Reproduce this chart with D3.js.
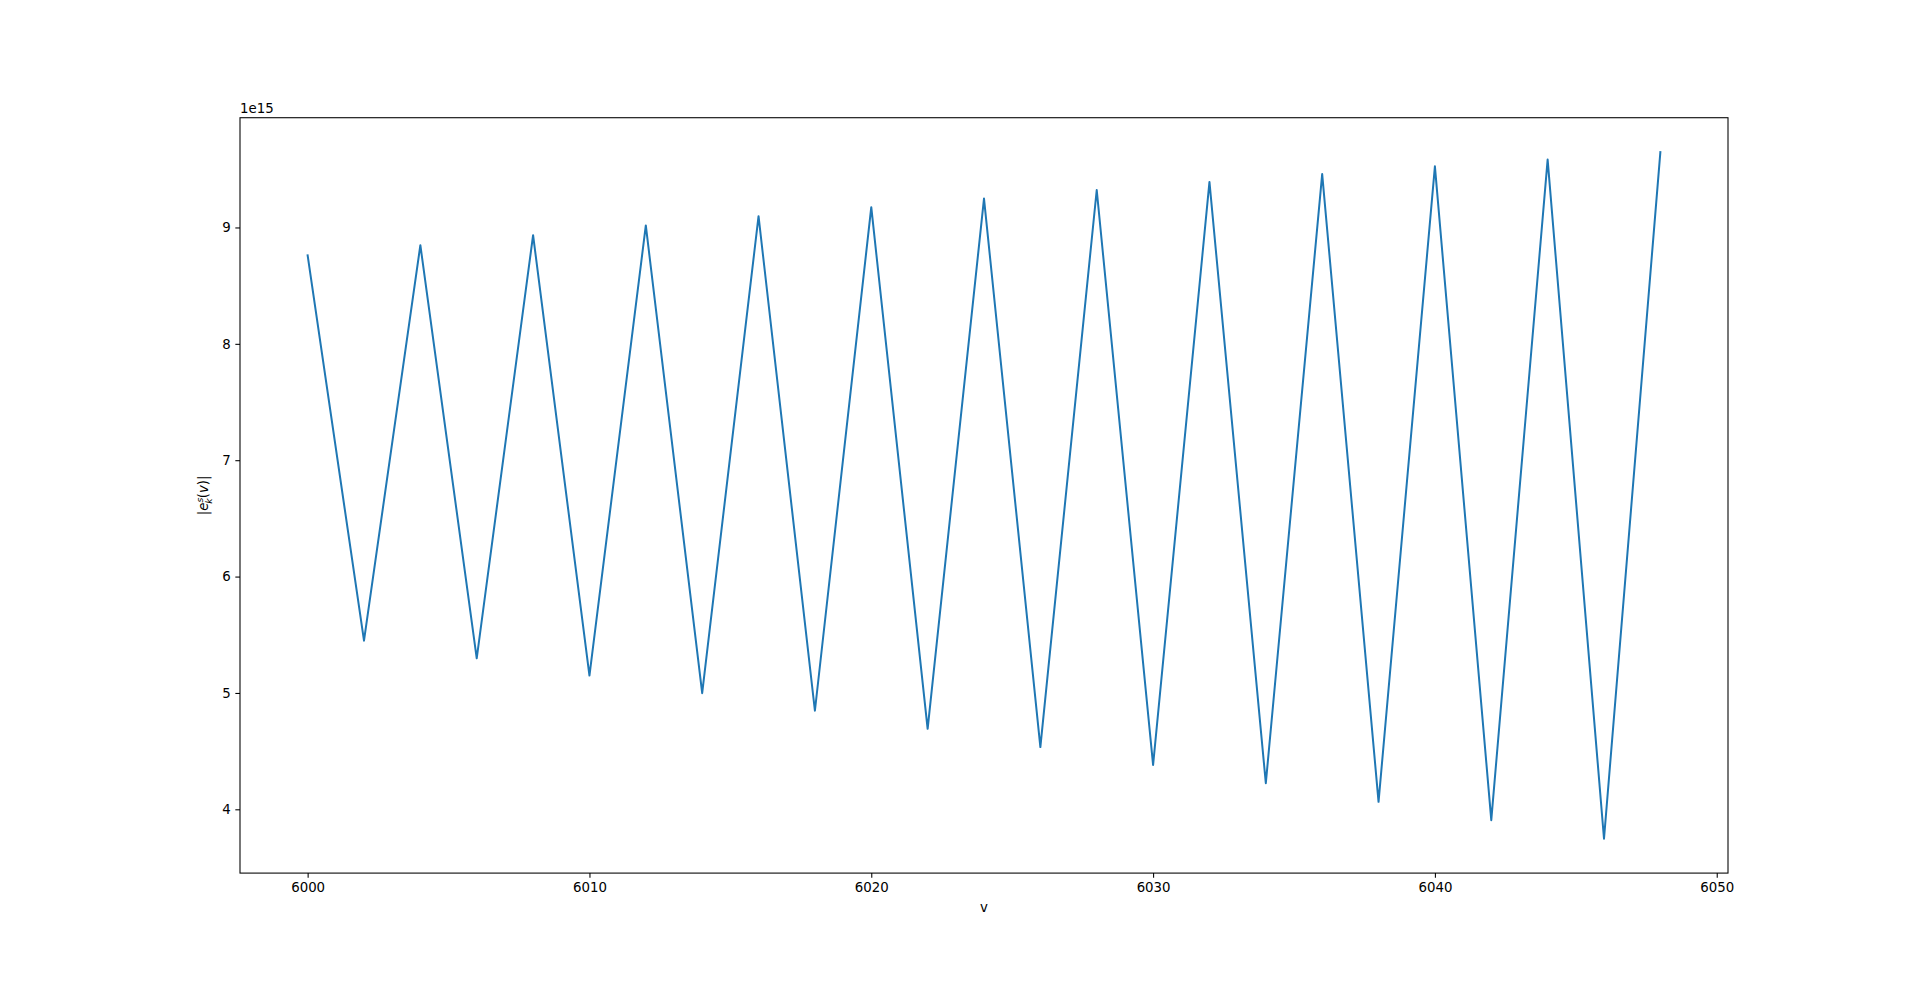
<!DOCTYPE html>
<html>
<head>
<meta charset="utf-8">
<script src="https://cdn.jsdelivr.net/npm/d3@7"></script>
<style>
  html, body { margin: 0; padding: 0; background: #fff; }
  svg { display: block; font-family: "DejaVu Sans", sans-serif; }
</style>
</head>
<body>
<svg id="chart" width="1920" height="981"></svg>
<script>
// Data (values in units of 1e15)
const vValues = [6000, 6002, 6004, 6006, 6008, 6010, 6012, 6014, 6016, 6018, 6020, 6022, 6024,
                 6026, 6028, 6030, 6032, 6034, 6036, 6038, 6040, 6042, 6044, 6046, 6048];
const errValues = [8.760, 5.449, 8.848, 5.298, 8.934, 5.149, 9.017, 4.998, 9.097, 4.847, 9.174, 4.692, 9.248,
                   4.535, 9.322, 4.381, 9.391, 4.224, 9.459, 4.064, 9.525, 3.907, 9.583, 3.747, 9.648];
const xTicks = [6000, 6010, 6020, 6030, 6040, 6050];
const yTicks = [4, 5, 6, 7, 8, 9];
const offsetLabel = "1e15";

(function () {
const W = 1920, H = 981;
const mLeft = 0.125 * W, mRight = 0.9 * W, mTop = (1 - 0.88) * H, mBottom = (1 - 0.11) * H;

const svg = d3.select("#chart");

const xmin = d3.min(vValues), xmax = d3.max(vValues);
const xm = (xmax - xmin) * 0.05;
const ymin = d3.min(errValues), ymax = d3.max(errValues);
const ym = (ymax - ymin) * 0.05;

const x = d3.scaleLinear().domain([xmin - xm, xmax + xm]).range([mLeft, mRight]);
const y = d3.scaleLinear().domain([ymin - ym, ymax + ym]).range([mBottom, mTop]);

const tickLen = 3.5 * 96 / 72;
const fontPx = 10 * 96 / 72;

const xAxis = d3.axisBottom(x).tickValues(xTicks).tickFormat(d3.format("d"))
  .tickSizeInner(tickLen).tickSizeOuter(0).tickPadding(tickLen);
const yAxis = d3.axisLeft(y).tickValues(yTicks).tickFormat(d3.format("d"))
  .tickSizeInner(tickLen).tickSizeOuter(0).tickPadding(tickLen);

// line
const line = d3.line().x((d, i) => x(vValues[i])).y(d => y(d));
svg.append("path")
  .datum(errValues)
  .attr("d", line)
  .attr("fill", "none")
  .attr("stroke", "#1f77b4")
  .attr("stroke-width", 2)
  .attr("stroke-linejoin", "round")
  .attr("stroke-linecap", "square");

const gx = svg.append("g").attr("transform", `translate(0,${mBottom})`).call(xAxis);
const gy = svg.append("g").attr("transform", `translate(${mLeft},0)`).call(yAxis);
[gx, gy].forEach(g => {
  g.select(".domain").remove();
  g.selectAll(".tick line").attr("stroke", "#000").attr("stroke-width", 1.07);
  g.selectAll(".tick text").attr("fill", "#000")
    .style("font-family", '"DejaVu Sans", sans-serif')
    .style("font-size", fontPx + "px");
});

// frame
svg.append("rect")
  .attr("x", mLeft).attr("y", mTop)
  .attr("width", mRight - mLeft).attr("height", mBottom - mTop)
  .attr("fill", "none").attr("stroke", "#000").attr("stroke-width", 1.07);

// offset label
svg.append("text")
  .attr("x", mLeft).attr("y", mTop - 4.5)
  .attr("font-size", fontPx + "px")
  .attr("fill", "#000")
  .text(offsetLabel);

// x label
svg.append("text")
  .attr("x", (mLeft + mRight) / 2).attr("y", 912)
  .attr("text-anchor", "middle")
  .attr("font-size", fontPx + "px")
  .attr("fill", "#000")
  .text("v");

// y label |e_k^s(v)|
const yl = svg.append("text")
  .attr("transform", `translate(208,${(mTop + mBottom) / 2}) rotate(-90)`)
  .attr("text-anchor", "middle")
  .attr("font-size", fontPx + "px")
  .attr("fill", "#000");
yl.append("tspan").text("|");
yl.append("tspan").attr("font-style", "italic").text("e");
yl.append("tspan").attr("font-style", "italic").attr("font-size", (fontPx * 0.7) + "px").attr("dy", -5).text("s");
yl.append("tspan").attr("font-style", "italic").attr("font-size", (fontPx * 0.7) + "px").attr("dx", -6).attr("dy", 9).text("k");
yl.append("tspan").attr("dy", -4).text("(");
yl.append("tspan").attr("font-style", "italic").text("v");
yl.append("tspan").text(")|");
})();
</script>
</body>
</html>
